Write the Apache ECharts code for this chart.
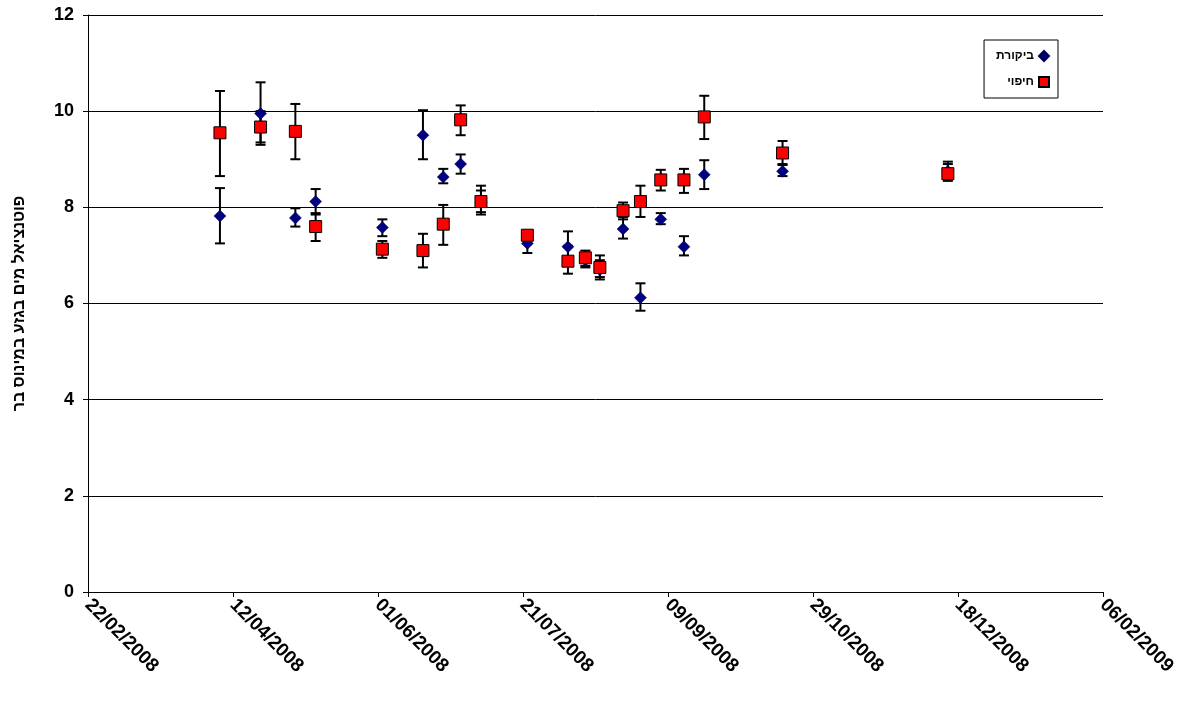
<!DOCTYPE html>
<html>
<head>
<meta charset="utf-8">
<script src="https://cdn.jsdelivr.net/npm/echarts@6/dist/echarts.min.js"></script>
<style>html,body{margin:0;padding:0;background:#fff}#chart{width:1189px;height:702px}</style>
</head>
<body>
<div id="chart"></div>
<script>
var baseDate = "2008-02-22";
var dates = ["2008-04-07","2008-04-21","2008-05-03","2008-05-10","2008-06-02","2008-06-16","2008-06-23","2008-06-29","2008-07-06","2008-07-22","2008-08-05","2008-08-11","2008-08-16","2008-08-24","2008-08-30","2008-09-06","2008-09-14","2008-09-21","2008-10-18","2008-12-14"];
var controlVal = [7.82,9.95,7.78,8.12,7.58,9.5,8.63,8.9,8.1,7.25,7.18,6.9,6.7,7.55,6.12,7.75,7.18,8.68,8.75,8.75];
var controlLow = [7.25,9.3,7.6,7.85,7.4,9.0,8.5,8.7,7.85,7.05,6.95,6.75,6.55,7.35,5.85,7.65,7.0,8.38,8.65,8.6];
var controlHigh = [8.4,10.6,7.98,8.38,7.75,10.02,8.8,9.1,8.35,7.4,7.5,7.05,6.9,7.8,6.42,7.88,7.4,8.98,8.88,8.9];
var treatVal = [9.55,9.67,9.58,7.6,7.13,7.1,7.65,9.82,8.12,7.42,6.88,6.95,6.75,7.93,8.12,8.57,8.57,9.88,9.13,8.7];
var treatLow = [8.65,9.35,9.0,7.3,6.95,6.75,7.22,9.5,7.9,7.35,6.62,6.78,6.5,7.75,7.8,8.35,8.3,9.42,8.9,8.55];
var treatHigh = [10.42,10.0,10.15,7.88,7.3,7.45,8.05,10.12,8.45,7.5,7.2,7.1,7.0,8.1,8.45,8.78,8.8,10.32,9.38,8.95];
var seriesNames = ["ביקורת", "חיפוי"];
var yTitle = "פוטנציאל מים בגזע במינוס בר";

var DAY = 86400000;
var base = Date.parse(baseDate);
function dayOf(s) { return (Date.parse(s) - base) / DAY + 0.5; }
function pad(n) { return (n < 10 ? "0" : "") + n; }
function fmt(d) {
  var t = new Date(base + d * DAY);
  return pad(t.getUTCDate()) + "/" + pad(t.getUTCMonth() + 1) + "/" + t.getUTCFullYear();
}
var days = dates.map(dayOf);

function errData(low, high) {
  return days.map(function (d, i) { return [d, low[i], high[i]]; });
}
function errRender(params, api) {
  var lo = api.coord([api.value(0), api.value(1)]);
  var hi = api.coord([api.value(0), api.value(2)]);
  var w = 5;
  var st = { stroke: "#000", lineWidth: 2 };
  return {
    type: "group",
    children: [
      { type: "line", shape: { x1: lo[0], y1: lo[1], x2: hi[0], y2: hi[1] }, style: st },
      { type: "line", shape: { x1: lo[0] - w, y1: lo[1], x2: lo[0] + w, y2: lo[1] }, style: st },
      { type: "line", shape: { x1: hi[0] - w, y1: hi[1], x2: hi[0] + w, y2: hi[1] }, style: st }
    ]
  };
}

var chart = echarts.init(document.getElementById("chart"));
chart.setOption({
  animation: false,
  grid: { left: 88, right: 86, top: 15, bottom: 110 },
  legend: {
    right: 131, top: 40, orient: "vertical", align: "right",
    data: seriesNames, itemGap: 14, padding: [10, 8, 10, 12],
    itemWidth: 10, itemHeight: 10,
    borderColor: "#000", borderWidth: 1,
    textStyle: { fontFamily: "Liberation Sans", fontWeight: "bold", fontSize: 12, color: "#000" }
  },
  xAxis: {
    type: "value", min: 0, max: 350, interval: 50,
    axisLine: { lineStyle: { color: "#000", width: 1 } },
    axisTick: { show: true, length: 5, lineStyle: { color: "#000" } },
    splitLine: { show: false },
    axisLabel: {
      formatter: fmt, rotate: -45, margin: 10, color: "#000",
      fontFamily: "Liberation Sans", fontWeight: "bold", fontSize: 19
    }
  },
  yAxis: {
    type: "value", min: 0, max: 12, interval: 2,
    name: yTitle, nameLocation: "middle", nameGap: 60, nameRotate: 90,
    nameTextStyle: { fontFamily: "Liberation Sans", fontWeight: "bold", fontSize: 16, color: "#000" },
    axisLine: { show: true, lineStyle: { color: "#000" } },
    axisTick: { show: true, length: 5, lineStyle: { color: "#000" } },
    splitLine: { lineStyle: { color: "#000", width: 1 } },
    axisLabel: { color: "#000", fontFamily: "Liberation Sans", fontWeight: "bold", fontSize: 18, margin: 14 }
  },
  series: [
    { type: "custom", renderItem: errRender, data: errData(controlLow, controlHigh), z: 1, silent: true },
    { type: "custom", renderItem: errRender, data: errData(treatLow, treatHigh), z: 1, silent: true },
    {
      name: seriesNames[0], type: "scatter", symbol: "diamond", symbolSize: 12, z: 3,
      itemStyle: { color: "#000080", borderColor: "#000050", borderWidth: 0.5, opacity: 1 },
      data: days.map(function (d, i) { return [d, controlVal[i]]; })
    },
    {
      name: seriesNames[1], type: "scatter", symbol: "rect", symbolSize: 12, z: 4,
      itemStyle: { color: "#ff0000", borderColor: "#000", borderWidth: 1, opacity: 1 },
      data: days.map(function (d, i) { return [d, treatVal[i]]; })
    }
  ]
});
</script>
</body>
</html>
